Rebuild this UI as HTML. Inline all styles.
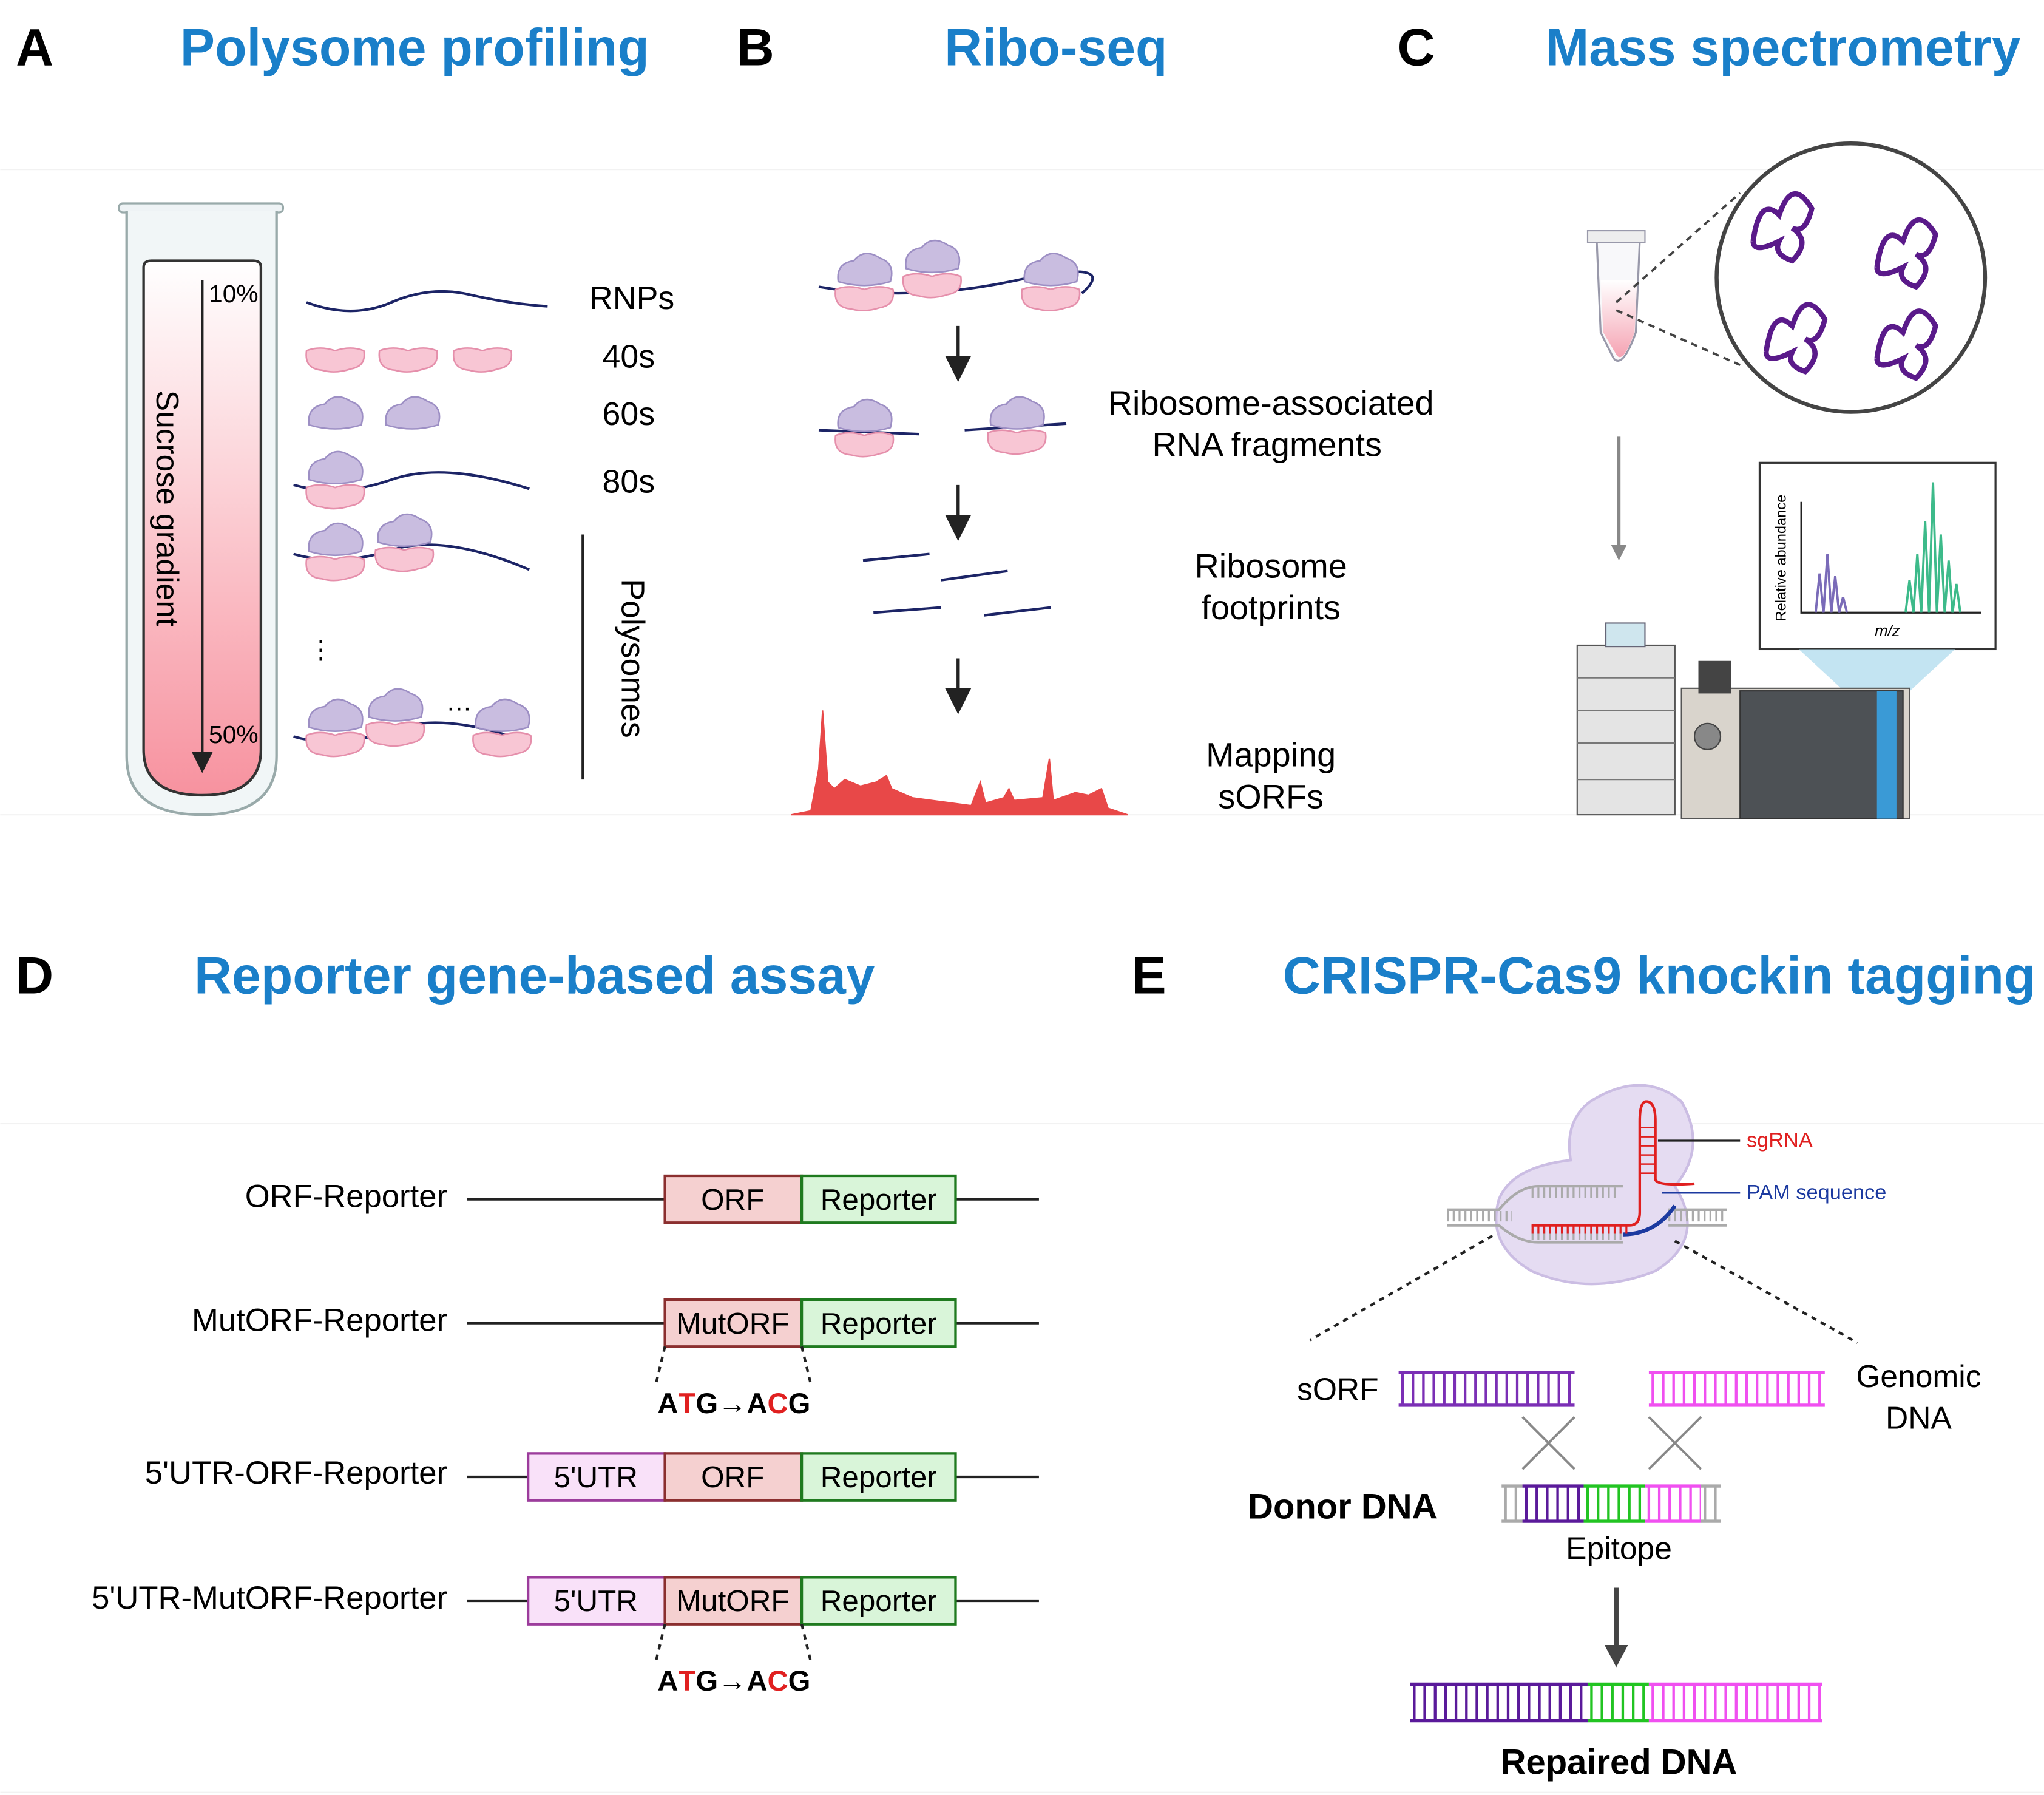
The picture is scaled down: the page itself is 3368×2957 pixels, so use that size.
<!DOCTYPE html>
<html><head><meta charset="utf-8"><style>
html,body{margin:0;padding:0;background:#fff}
svg{display:block}
text{font-family:"Liberation Sans",Arial,sans-serif}
</style></head><body>
<svg width="3368" height="2957" viewBox="0 0 1568 1377" xmlns="http://www.w3.org/2000/svg">
<defs>
<linearGradient id="sg" x1="0" y1="0" x2="0" y2="1"><stop offset="0" stop-color="#fff"/><stop offset="1" stop-color="#f7929f"/></linearGradient>
<linearGradient id="tb" x1="0" y1="0" x2="0" y2="1"><stop offset="0" stop-color="#fff"/><stop offset="1" stop-color="#f5a3b3"/></linearGradient>
<g id="small"><path d="M-22,-6 Q-12,-10 0,-6 Q12,-10 22,-6 Q24,6 12,8 Q0,12 -10,9 Q-24,8 -22,-6Z" fill="#f8c6d4" stroke="#e58fab" stroke-width="1.2"/></g>
<g id="large"><path d="M-20,4 Q-22,-10 -8,-12 Q0,-22 12,-14 Q24,-10 20,4 Q0,10 -20,4Z" fill="#c9bde0" stroke="#9d8fc4" stroke-width="1.2"/></g>
<g id="ribo"><use href="#small" y="10"/><use href="#large" y="-6"/></g>
<marker id="ah" markerWidth="8" markerHeight="8" refX="4" refY="4" orient="auto"><path d="M0,0 L8,4 L0,8Z" fill="#222"/></marker>
</defs>

<g stroke="#f2f2f2" stroke-width="1"><line x1="0" y1="130" x2="1568" y2="130"/><line x1="0" y1="625" x2="1568" y2="625"/><line x1="0" y1="862" x2="1568" y2="862"/><line x1="0" y1="1375" x2="1568" y2="1375"/></g>

<g font-weight="bold" font-size="40">
<text x="12" y="50">A</text><text x="565" y="50">B</text><text x="1072" y="50">C</text>
<text x="12" y="762">D</text><text x="868" y="762">E</text>
</g>
<g font-weight="bold" font-size="40" fill="#1a7fc9" text-anchor="middle">
<text x="318" y="50">Polysome profiling</text><text x="810" y="50">Ribo-seq</text><text x="1368" y="50">Mass spectrometry</text>
<text x="410" y="762">Reporter gene-based assay</text><text x="1273" y="762">CRISPR-Cas9 knockin tagging</text>
</g>

<!-- Panel A -->
<rect x="91" y="156" width="126" height="7" rx="3" fill="#eef3f5" stroke="#9aa" stroke-width="1.5"/>
<path d="M97,162 V580 Q97,625 155,625 Q212,625 212,580 V162" fill="#f1f6f7" stroke="#9aa" stroke-width="2"/>
<path d="M110,205 Q110,200 116,200 H194 Q200,200 200,205 V575 Q200,610 155,610 Q110,610 110,575Z" fill="url(#sg)" stroke="#333" stroke-width="2"/>
<line x1="155" y1="215" x2="155" y2="585" stroke="#222" stroke-width="2" marker-end="url(#ah)"/>
<text x="160" y="232" font-size="19">10%</text><text x="160" y="570" font-size="19">50%</text>
<text transform="translate(120,390) rotate(90)" font-size="24" text-anchor="middle">Sucrose gradient</text>
<g fill="none" stroke="#1c2466" stroke-width="2">
<path d="M235,232 Q270,245 300,232 T360,226 T420,235"/>
<path d="M225,372 Q260,382 300,368 T406,375"/>
<path d="M225,425 Q260,435 300,422 T406,437"/>
<path d="M225,565 Q260,575 300,560 T406,570"/>
</g>
<use href="#small" x="257" y="275"/><use href="#small" x="313" y="275"/><use href="#small" x="370" y="275"/>
<use href="#large" x="257" y="322"/><use href="#large" x="316" y="322"/>
<use href="#ribo" x="257" y="370"/>
<use href="#ribo" x="257" y="425"/><use href="#ribo" x="310" y="418"/>
<use href="#ribo" x="257" y="560"/><use href="#ribo" x="303" y="552"/><use href="#ribo" x="385" y="560"/>
<text x="236" y="505" font-size="20">⋮</text><text x="342" y="545" font-size="20">…</text>
<g font-size="25"><text x="452" y="237">RNPs</text><text x="462" y="282">40s</text><text x="462" y="326">60s</text><text x="462" y="378">80s</text></g>
<line x1="447" y1="410" x2="447" y2="598" stroke="#222" stroke-width="2"/>
<text transform="translate(477,505) rotate(90)" font-size="25" text-anchor="middle">Polysomes</text>

<!-- Panel B -->
<g fill="none" stroke="#1c2466" stroke-width="2">
<path d="M628,220 Q700,232 780,215 T830,225"/>
<path d="M628,330 L705,333"/><path d="M740,330 L818,325"/>
<path d="M662,430 L713,425"/><path d="M722,445 L773,438"/><path d="M670,470 L722,466"/><path d="M755,472 L806,466"/>
</g>
<use href="#ribo" x="663" y="218"/><use href="#ribo" x="715" y="208"/><use href="#ribo" x="806" y="218"/>
<use href="#ribo" x="663" y="330"/><use href="#ribo" x="780" y="328"/>
<g stroke="#222" stroke-width="2.5"><line x1="735" y1="250" x2="735" y2="283" marker-end="url(#ah)"/><line x1="735" y1="372" x2="735" y2="405" marker-end="url(#ah)"/><line x1="735" y1="505" x2="735" y2="538" marker-end="url(#ah)"/></g>
<path d="M607,625 L622,622 L628,590 L631,545 L635,600 L640,605 L648,598 L660,603 L672,600 L680,595 L684,605 L700,612 L745,618 L752,600 L756,616 L770,612 L774,605 L778,614 L800,612 L805,582 L808,614 L825,608 L835,610 L845,605 L850,620 L865,625Z" fill="#e84848" stroke="#e84848"/>
<g font-size="26" text-anchor="middle"><text x="975" y="318">Ribosome-associated</text><text x="972" y="350">RNA fragments</text>
<text x="975" y="443">Ribosome</text><text x="975" y="475">footprints</text>
<text x="975" y="588">Mapping</text><text x="975" y="620">sORFs</text></g>

<!-- Panel C -->
<path d="M1225,185 L1258,185 L1255,255 Q1245,283 1238,275 L1228,255Z" fill="#f8f8fa" stroke="#99a" stroke-width="1.5"/>
<path d="M1228,215 L1256,215 L1254,255 Q1245,280 1240,272 L1230,255Z" fill="url(#tb)"/>
<rect x="1218" y="177" width="44" height="9" fill="#eee" stroke="#99a"/>
<circle cx="1420" cy="213" r="103" fill="#fff" stroke="#444" stroke-width="3"/>
<g stroke="#444" stroke-width="1.8" stroke-dasharray="5 4"><line x1="1240" y1="232" x2="1335" y2="148"/><line x1="1240" y1="238" x2="1335" y2="280"/></g>
<g fill="none" stroke="#5a1a8a" stroke-width="4">
<path d="M1345,185 q5,-35 20,-20 q10,-30 25,-5 q-5,20 -15,15 q15,10 0,25 q-15,-5 -10,-15 q-20,10 -20,0"/>
<path d="M1440,205 q5,-35 20,-20 q10,-30 25,-5 q-5,20 -15,15 q15,10 0,25 q-15,-5 -10,-15 q-20,10 -20,0"/>
<path d="M1355,270 q5,-35 20,-20 q10,-30 25,-5 q-5,20 -15,15 q15,10 0,25 q-15,-5 -10,-15 q-20,10 -20,0"/>
<path d="M1440,275 q5,-35 20,-20 q10,-30 25,-5 q-5,20 -15,15 q15,10 0,25 q-15,-5 -10,-15 q-20,10 -20,0"/>
</g>
<line x1="1242" y1="335" x2="1242" y2="420" stroke="#888" stroke-width="2.5"/><path d="M1236,418 L1248,418 L1242,430Z" fill="#888"/>
<rect x="1350" y="355" width="181" height="143" fill="#fff" stroke="#333" stroke-width="1.5"/>
<polygon points="1380,498 1500,498 1460,535 1420,535" fill="#a9d8ec" opacity="0.7"/>
<polyline points="1382,385 1382,470 1520,470" fill="none" stroke="#222" stroke-width="1.5"/>
<text transform="translate(1370,428) rotate(-90)" font-size="11" text-anchor="middle">Relative abundance</text>
<text x="1448" y="488" font-size="12" font-style="italic" text-anchor="middle">m/z</text>
<path d="M1393,470 l3,-30 l3,30 l3,-45 l3,45 l3,-28 l3,28 l3,-12 l3,12" fill="none" stroke="#7a6bb8" stroke-width="1.8"/>
<path d="M1462,470 l3,-25 l3,25 l3,-45 l3,45 l3,-70 l3,70 l3,-100 l3,100 l3,-60 l3,60 l3,-40 l3,40 l3,-22 l3,22" fill="none" stroke="#3dba8a" stroke-width="1.8"/>
<rect x="1210" y="495" width="75" height="130" fill="#e4e4e4" stroke="#555"/>
<g stroke="#777"><line x1="1210" y1="520" x2="1285" y2="520"/><line x1="1210" y1="545" x2="1285" y2="545"/><line x1="1210" y1="570" x2="1285" y2="570"/><line x1="1210" y1="598" x2="1285" y2="598"/></g>
<rect x="1232" y="478" width="30" height="18" fill="#cfe6ee" stroke="#667"/>
<rect x="1290" y="528" width="175" height="100" fill="#d9d4cc" stroke="#555"/>
<rect x="1335" y="530" width="125" height="98" fill="#4d5155" stroke="#333"/>
<rect x="1440" y="530" width="15" height="98" fill="#3a9ad6"/>
<rect x="1303" y="507" width="25" height="25" fill="#444"/>
<circle cx="1310" cy="565" r="10" fill="#888" stroke="#444"/>

<!-- Panel D -->
<g font-size="24.5" text-anchor="end"><text x="343" y="926">ORF-Reporter</text><text x="343" y="1021">MutORF-Reporter</text><text x="343" y="1138">5'UTR-ORF-Reporter</text><text x="343" y="1234">5'UTR-MutORF-Reporter</text></g>
<g stroke="#222" stroke-width="2"><line x1="358" y1="920" x2="797" y2="920"/><line x1="358" y1="1015" x2="797" y2="1015"/><line x1="358" y1="1133" x2="797" y2="1133"/><line x1="358" y1="1228" x2="797" y2="1228"/></g>
<g stroke-width="2">
<rect x="510" y="902" width="105" height="36" fill="#f5d0d0" stroke="#8b2f2f"/><rect x="615" y="902" width="118" height="36" fill="#d9f5d9" stroke="#1f7a1f"/>
<rect x="510" y="997" width="105" height="36" fill="#f5d0d0" stroke="#8b2f2f"/><rect x="615" y="997" width="118" height="36" fill="#d9f5d9" stroke="#1f7a1f"/>
<rect x="405" y="1115" width="105" height="36" fill="#f9e1f9" stroke="#9c3c9c"/><rect x="510" y="1115" width="105" height="36" fill="#f5d0d0" stroke="#8b2f2f"/><rect x="615" y="1115" width="118" height="36" fill="#d9f5d9" stroke="#1f7a1f"/>
<rect x="405" y="1210" width="105" height="36" fill="#f9e1f9" stroke="#9c3c9c"/><rect x="510" y="1210" width="105" height="36" fill="#f5d0d0" stroke="#8b2f2f"/><rect x="615" y="1210" width="118" height="36" fill="#d9f5d9" stroke="#1f7a1f"/>
</g>
<g font-size="23" text-anchor="middle">
<text x="562" y="928">ORF</text><text x="674" y="928">Reporter</text>
<text x="562" y="1023">MutORF</text><text x="674" y="1023">Reporter</text>
<text x="457" y="1141">5'UTR</text><text x="562" y="1141">ORF</text><text x="674" y="1141">Reporter</text>
<text x="457" y="1236">5'UTR</text><text x="562" y="1236">MutORF</text><text x="674" y="1236">Reporter</text>
</g>
<g stroke="#222" stroke-width="2" stroke-dasharray="4 4"><line x1="510" y1="1033" x2="503" y2="1062"/><line x1="615" y1="1033" x2="622" y2="1062"/><line x1="510" y1="1246" x2="503" y2="1275"/><line x1="615" y1="1246" x2="622" y2="1275"/></g>
<g font-size="22" font-weight="bold" text-anchor="middle">
<text x="563" y="1084">A<tspan fill="#e02020">T</tspan>G→A<tspan fill="#e02020">C</tspan>G</text>
<text x="563" y="1297">A<tspan fill="#e02020">T</tspan>G→A<tspan fill="#e02020">C</tspan>G</text>
</g>

<!-- Panel E -->
<path d="M1220,845 Q1260,820 1290,845 Q1310,880 1285,910 Q1310,950 1270,975 Q1220,995 1175,975 Q1140,955 1150,920 Q1160,895 1205,890 Q1200,860 1220,845Z" fill="#e5dcf2" stroke="#cbbde3" stroke-width="2"/>
<g fill="none" stroke-width="8" stroke-dasharray="1.5 3">
<line x1="1110" y1="933" x2="1160" y2="933" stroke="#aaa"/><line x1="1280" y1="933" x2="1325" y2="933" stroke="#aaa"/>
<line x1="1175" y1="915" x2="1240" y2="915" stroke="#aaa"/><line x1="1175" y1="947" x2="1245" y2="947" stroke="#aaa"/>
</g>
<g fill="none" stroke-width="2">
<path d="M1110,928 H1150 Q1165,910 1180,910 H1245" stroke="#aaa"/><path d="M1110,940 H1150 Q1165,953 1180,953 H1245" stroke="#aaa"/>
<path d="M1280,928 H1325 M1280,940 H1325" stroke="#aaa"/>
<path d="M1175,940 H1250 Q1258,940 1258,930 V860 Q1258,845 1263,845 Q1270,845 1270,860 V905 Q1272,910 1300,908" stroke="#e02020"/>
<path d="M1245,947 Q1270,947 1285,925" stroke="#1c3aa0" stroke-width="3"/>
</g>
<line x1="1175" y1="943" x2="1250" y2="943" stroke="#e02020" stroke-width="7" stroke-dasharray="1.5 3"/>
<g stroke="#e02020" stroke-width="1.2"><line x1="1258" y1="865" x2="1270" y2="865"/><line x1="1258" y1="872" x2="1270" y2="872"/><line x1="1258" y1="879" x2="1270" y2="879"/><line x1="1258" y1="886" x2="1270" y2="886"/><line x1="1258" y1="893" x2="1270" y2="893"/><line x1="1258" y1="900" x2="1270" y2="900"/></g>
<line x1="1272" y1="875" x2="1335" y2="875" stroke="#222" stroke-width="1.5"/>
<line x1="1275" y1="915" x2="1335" y2="915" stroke="#1c3aa0" stroke-width="1.5"/>
<text x="1340" y="880" font-size="16" fill="#e02020">sgRNA</text>
<text x="1340" y="920" font-size="16" fill="#1c3aa0">PAM sequence</text>
<g stroke="#222" stroke-width="2" stroke-dasharray="4 4"><line x1="1145" y1="948" x2="1005" y2="1028"/><line x1="1285" y1="952" x2="1425" y2="1030"/></g>
<text x="995" y="1074" font-size="24">sORF</text>
<g font-size="24" text-anchor="middle"><text x="1472" y="1064">Genomic</text><text x="1472" y="1096">DNA</text></g>
<g fill="none">
<g stroke="#7b2fb5"><path d="M1073,1053 H1208 M1073,1078 H1208" stroke-width="2.5"/><line x1="1075" y1="1065.5" x2="1208" y2="1065.5" stroke-width="25" stroke-dasharray="2 6"/></g>
<g stroke="#f050f0"><path d="M1265,1053 H1400 M1265,1078 H1400" stroke-width="2.5"/><line x1="1267" y1="1065.5" x2="1400" y2="1065.5" stroke-width="25" stroke-dasharray="2 6"/></g>
<g stroke="#888" stroke-width="1.8"><line x1="1168" y1="1087" x2="1208" y2="1127"/><line x1="1208" y1="1087" x2="1168" y2="1127"/><line x1="1265" y1="1087" x2="1305" y2="1127"/><line x1="1305" y1="1087" x2="1265" y2="1127"/></g>
<g stroke="#aaa"><path d="M1152,1140 H1168 M1152,1167 H1168" stroke-width="2.5"/><line x1="1154" y1="1153.5" x2="1168" y2="1153.5" stroke-width="27" stroke-dasharray="2 6"/></g>
<g stroke="#5a1a9a"><path d="M1168,1140 H1215 M1168,1167 H1215" stroke-width="2.5"/><line x1="1170" y1="1153.5" x2="1215" y2="1153.5" stroke-width="27" stroke-dasharray="2 6"/></g>
<g stroke="#22c422"><path d="M1215,1140 H1262 M1215,1167 H1262" stroke-width="2.5"/><line x1="1217" y1="1153.5" x2="1262" y2="1153.5" stroke-width="27" stroke-dasharray="2 6"/></g>
<g stroke="#f050f0"><path d="M1262,1140 H1305 M1262,1167 H1305" stroke-width="2.5"/><line x1="1264" y1="1153.5" x2="1305" y2="1153.5" stroke-width="27" stroke-dasharray="2 6"/></g>
<g stroke="#aaa"><path d="M1305,1140 H1320 M1305,1167 H1320" stroke-width="2.5"/><line x1="1307" y1="1153.5" x2="1320" y2="1153.5" stroke-width="27" stroke-dasharray="2 6"/></g>
<g stroke="#5a1a9a"><path d="M1082,1292 H1218 M1082,1320 H1218" stroke-width="2.5"/><line x1="1084" y1="1306" x2="1218" y2="1306" stroke-width="28" stroke-dasharray="2 6"/></g>
<g stroke="#22c422"><path d="M1218,1292 H1265 M1218,1320 H1265" stroke-width="2.5"/><line x1="1220" y1="1306" x2="1265" y2="1306" stroke-width="28" stroke-dasharray="2 6"/></g>
<g stroke="#f050f0"><path d="M1265,1292 H1398 M1265,1320 H1398" stroke-width="2.5"/><line x1="1267" y1="1306" x2="1398" y2="1306" stroke-width="28" stroke-dasharray="2 6"/></g>
</g>
<text x="1030" y="1165" font-size="27" font-weight="bold" text-anchor="middle">Donor DNA</text>
<text x="1242" y="1196" font-size="24" text-anchor="middle">Epitope</text>
<line x1="1240" y1="1218" x2="1240" y2="1265" stroke="#444" stroke-width="3.5"/><path d="M1231,1262 L1249,1262 L1240,1279Z" fill="#444"/>
<text x="1242" y="1361" font-size="27" font-weight="bold" text-anchor="middle">Repaired DNA</text>
</svg>
</body></html>
